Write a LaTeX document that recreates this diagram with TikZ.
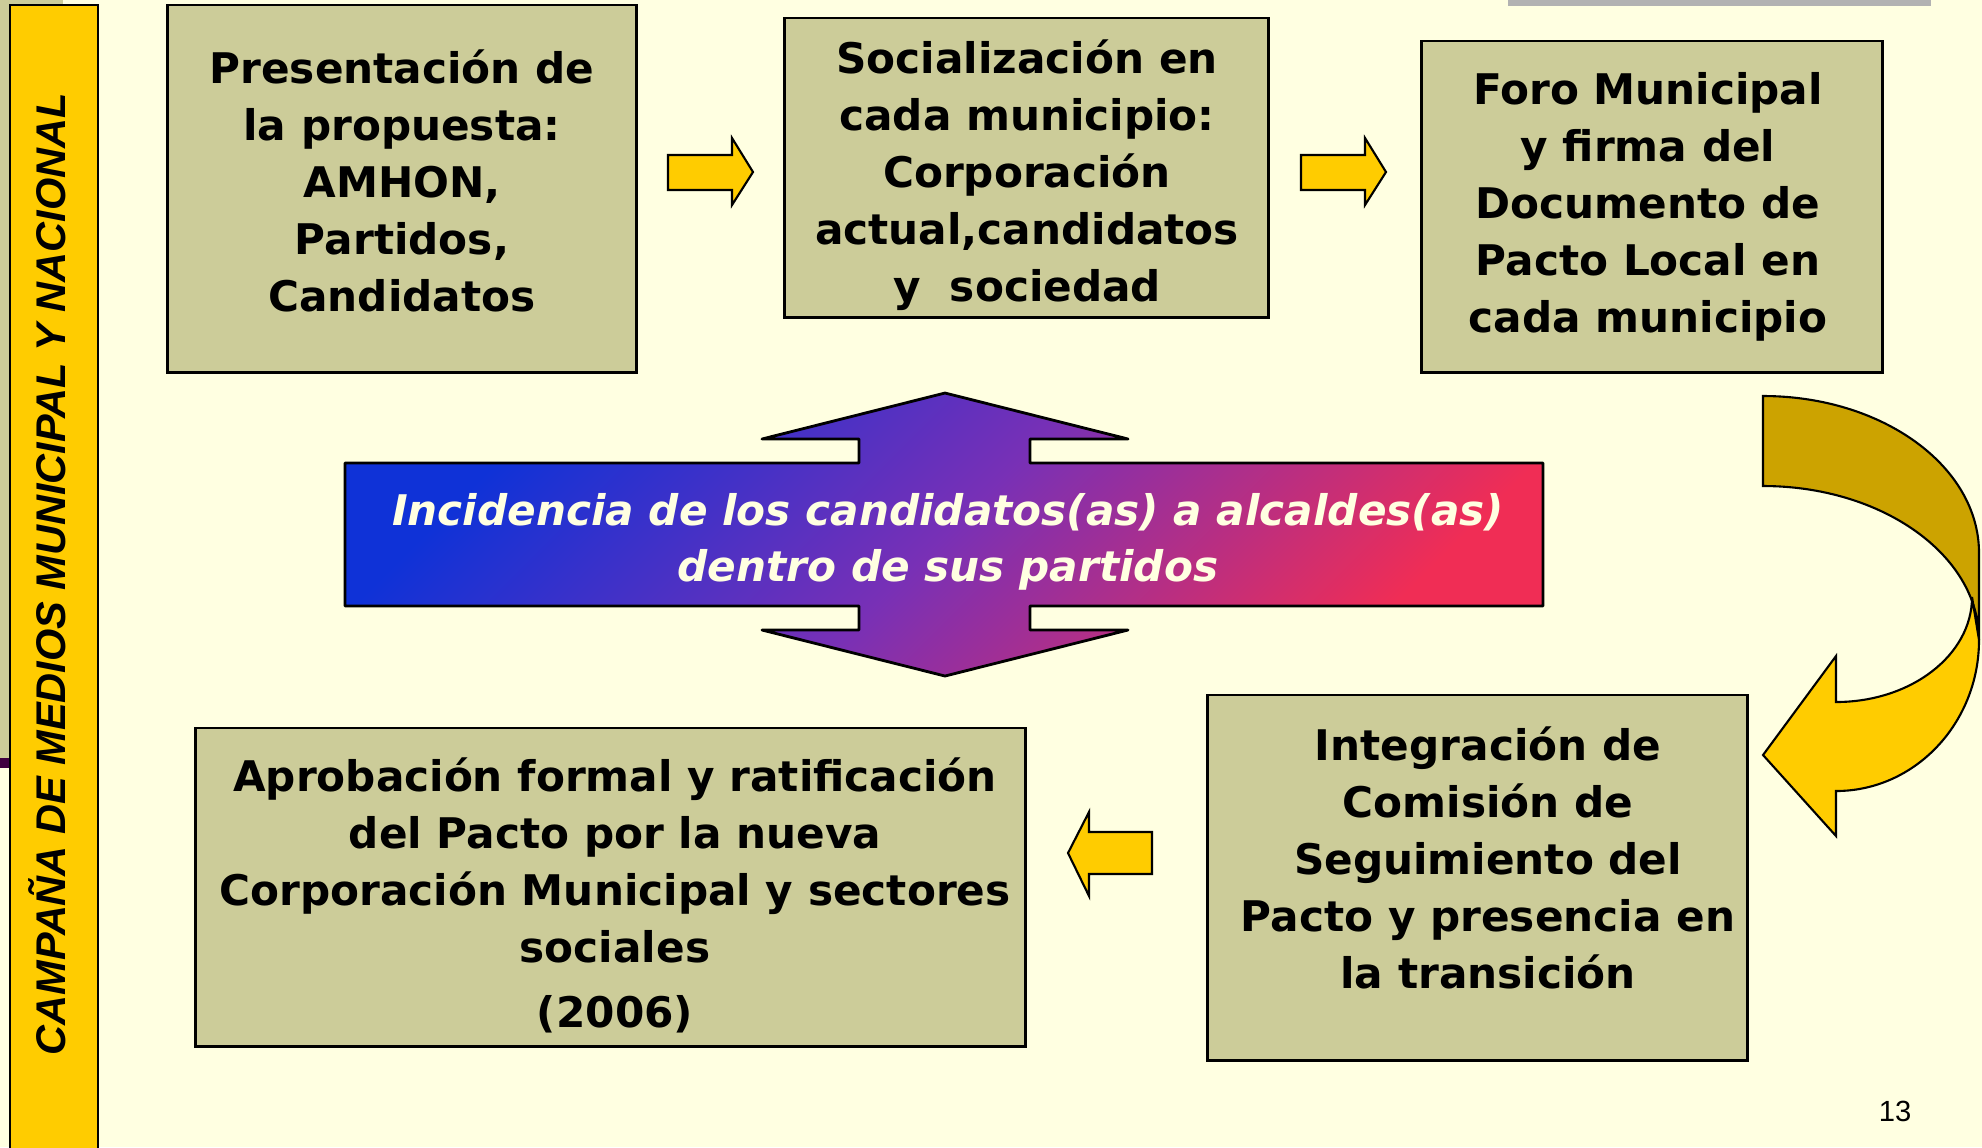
\documentclass[tikz,border=0pt]{standalone}
\usepackage{fontspec}
\setmainfont{DejaVu Sans}
\newfontfamily\sidefont{Liberation Sans}

\definecolor{paper}{RGB}{255,255,225}
\definecolor{khaki}{RGB}{204,204,153}
\definecolor{gold}{RGB}{255,204,0}
\definecolor{darkgold}{RGB}{204,163,0}
\definecolor{plum}{RGB}{64,0,64}
\definecolor{barcol}{RGB}{178,178,178}
\definecolor{incblue}{RGB}{15,50,215}
\definecolor{incmid}{RGB}{120,48,182}
\definecolor{incred}{RGB}{240,45,85}

\begin{document}
\begin{tikzpicture}[x=0.01cm, y=-0.01cm,
    box/.style={draw=black, line width=0.8pt, fill=khaki, inner sep=0pt},
    boxtext/.style={align=center, font=\bfseries\fontsize{12}{16.2}\selectfont},
    blockarrow/.style={draw=black, line width=0.6pt, fill=gold, line join=miter}]
        \useasboundingbox (0, 0) rectangle (1982, 1147);
        \fill[paper] (0, 0) rectangle (1982, 1147);
        \fill[khaki] (0, 0) rectangle (63, 758);
        \fill[plum] (0, 758) rectangle (10, 768);
        \fill[barcol] (1508, 0) rectangle (1931, 6);
        % side bar
        \draw[line width=0.8pt, fill=gold] (10, 5) rectangle (98, 1160);
        \node[rotate=90, font=\sidefont\bfseries\itshape\fontsize{11.8}{14}\selectfont] (campaign) at (47, 574) {CAMPAÑA DE MEDIOS MUNICIPAL Y NACIONAL};
        % steps
        \node[box, minimum width=4.68cm, minimum height=3.67cm] (present) at (402, 188.5) {};
        \node[box, minimum width=4.83cm, minimum height=2.99cm] (social) at (1026.5, 167.5) {};
        \node[box, minimum width=4.60cm, minimum height=3.31cm] (foro) at (1652, 206.5) {};
        \node[box, minimum width=5.39cm, minimum height=3.65cm] (integ) at (1477.5, 877.5) {};
        \node[box, minimum width=8.29cm, minimum height=3.18cm] (aprob) at (610.5, 887) {};
        \node[boxtext] (presenttext) at (402, 181) {Presentación de\\la propuesta:\\AMHON,\\Partidos,\\Candidatos};
        \node[boxtext] (socialtext) at (1027, 175) {Socialización en\\cada municipio:\\Corporación\\actual,candidatos\\y~\ sociedad};
        \node[boxtext] (forotext) at (1648, 206.5) {Foro Municipal\\y firma del\\Documento de\\Pacto Local en\\cada municipio};
        \node[boxtext] (integtext) at (1488, 858) {Integración de\\Comisión de\\Seguimiento del\\Pacto y presencia en\\la transición};
        \node[boxtext] (aprobtext) at (615, 895) {Aprobación formal y ratificación\\del Pacto por la nueva\\Corporación Municipal y sectores\\sociales\\[0.08cm](2006)};
        % small arrows
        \foreach \dx in {0, 633}
            \draw[blockarrow, xshift=\dx*0.01cm] (668, 155) -- (732, 155) -- (732, 138) -- (753, 172)
                -- (732, 205) -- (732, 190) -- (668, 190) -- cycle;
        \draw[blockarrow] (1152, 832) -- (1089, 832) -- (1089, 812) -- (1068, 853)
            -- (1089, 896) -- (1089, 874) -- (1152, 874) -- cycle;
        % curved arrow
        \draw[blockarrow, fill=darkgold] (1763, 396) .. controls (1882, 396) and (1979, 466) .. (1979, 553)
            -- (1979, 640) .. controls (1979, 555) and (1882, 486) .. (1763, 486) -- cycle;
        \draw[blockarrow] (1972, 597) -- (1979, 640) .. controls (1979, 723) and (1915, 791) .. (1836, 791)
            -- (1836, 836) -- (1763, 755) -- (1836, 656) -- (1836, 702)
            .. controls (1911, 702) and (1972, 655) .. (1972, 597) -- cycle;
        % double arrow
        \path[draw=black, line width=0.8pt, line join=round, top color=incblue, bottom color=incred,
            middle color=incmid, shading angle=45]
            (345, 463) -- (859, 463) -- (859, 439) -- (762, 439) -- (945, 393) -- (1128, 439)
            -- (1030, 439) -- (1030, 463) -- (1543, 463) -- (1543, 606) -- (1030, 606) -- (1030, 630)
            -- (1128, 630) -- (945, 676) -- (762, 630) -- (859, 630) -- (859, 606) -- (345, 606) -- cycle;
        \node[align=center, text=paper, font=\bfseries\itshape\fontsize{12}{15.9}\selectfont] (incid) at (948, 542)
            {Incidencia de los candidatos(as) a alcaldes(as)\\dentro de sus partidos};
        \node[font=\sidefont\fontsize{8.3}{10}\selectfont] (page) at (1895, 1111.5) {13};
      \end{tikzpicture}
\end{document}
